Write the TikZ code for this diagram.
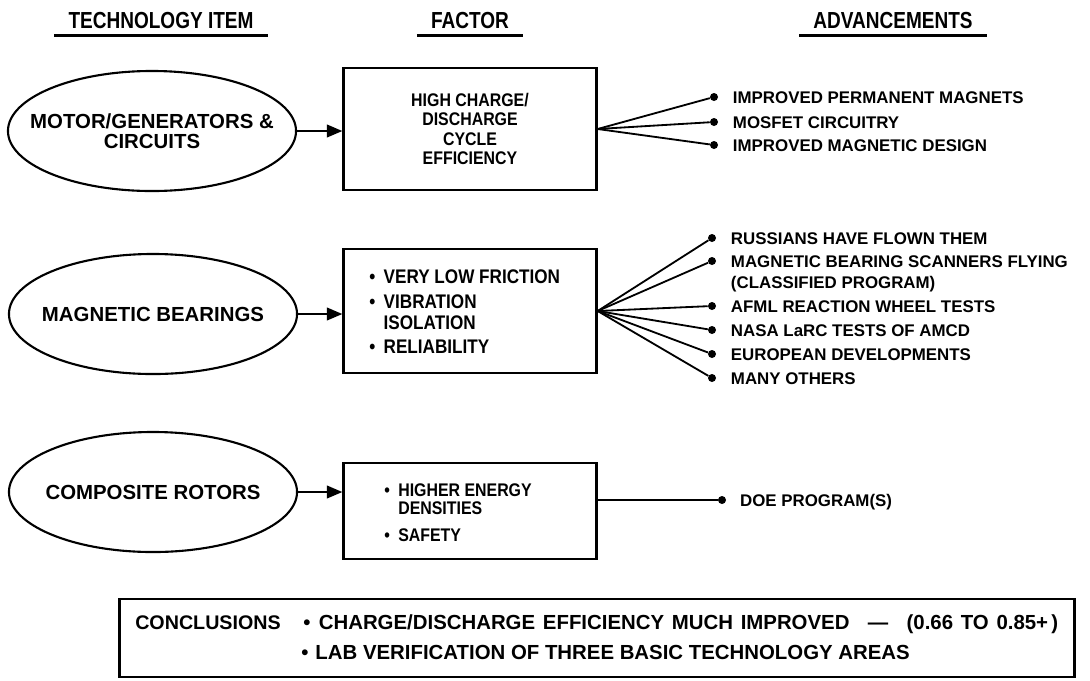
\documentclass[tikz,border=0pt]{standalone}
\usepackage{fontspec}
\setmainfont{Liberation Sans}
\newfontfamily\headfont{Liberation Sans}[FakeStretch=0.82]
\newfontfamily\condfont{Liberation Sans}[FakeStretch=0.87]
\usetikzlibrary{arrows.meta}
\usetikzlibrary{positioning}
\usetikzlibrary{shapes.geometric}
\newcommand{\fbul}{\textbullet\hspace{6pt}}
\newcommand{\fsp}{\phantom{\textbullet}\hspace{6pt}}

\begin{document}
\begin{tikzpicture}[x=0.025cm, y=-0.025cm,
		every node/.style={font=\bfseries},
		head/.style={font=\headfont\bfseries\fontsize{16.5}{18}\selectfont, inner xsep=3.5mm, inner ysep=1.7mm, text height=11.8pt, text depth=0pt},
		uline/.style={line width=2pt},
		techitem/.style={ellipse, draw, line width=1.5pt, minimum width=7.2cm, minimum height=3cm, inner xsep=-16pt, inner ysep=0pt, align=center, font=\bfseries\fontsize{14.5}{14.5}\selectfont},
		factor/.style={rectangle, draw, line width=1.6pt, minimum width=6.325cm, inner sep=0pt, align=center, font=\condfont\bfseries\fontsize{13}{13.8}\selectfont},
		facitem/.style={anchor=west, inner sep=0pt, align=left, font=\condfont\bfseries\fontsize{14}{15}\selectfont},
		arr/.style={line width=1.4pt, -{Triangle[length=11pt,width=9pt]}},
		fan/.style={line width=1.3pt},
		bul/.style={circle, fill, inner sep=0pt, minimum size=2mm},
		advtext/.style={inner sep=0pt, text height=8.6pt, text depth=0pt, font=\bfseries\fontsize{12}{14}\selectfont},
		concl/.style={anchor=west, inner sep=0pt, text height=10pt, text depth=0pt, font=\bfseries\fontsize{14.5}{16}\selectfont}]
	
	\useasboundingbox (0,0) rectangle (1090,680);
	
	% column heads
	\node[head] (hditem) at (161,20) {TECHNOLOGY ITEM};
	\node[head] (hdfac) at (470,20) {FACTOR};
	\node[head] (hdadv) at (893,20) {ADVANCEMENTS};
	\foreach \h in {hditem,hdfac,hdadv}
		\draw[uline] (\h.south west) -- (\h.south east);
	
	% technology items
	\node[techitem] (ell1) at (152,131) {MOTOR/GENERATORS \&\\CIRCUITS};
	\node[techitem] (ell2) at (153,314) {MAGNETIC BEARINGS};
	\node[techitem] (ell3) at (153,492) {COMPOSITE ROTORS};
	
	% factors
	\node[factor, minimum height=3.05cm] (fac1) at (470,129) {HIGH CHARGE/\\DISCHARGE\\CYCLE\\EFFICIENCY};
	\node[factor, minimum height=3.1cm] (fac2) at (470,311) {};
	\node[factor, minimum height=2.4cm] (fac3) at (470,511) {};
	
	\node[facitem] (f21) at (369,277) {\fbul VERY LOW FRICTION};
	\node[facitem] (f22) at (369,312) {\fbul VIBRATION\\\fsp ISOLATION};
	\node[facitem] (f23) at (369,347) {\fbul RELIABILITY};
	
	\node[facitem, font=\condfont\bfseries\fontsize{13}{12.8}\selectfont] (f31) at (384,499) {\fbul HIGHER ENERGY\\\fsp DENSITIES};
	\node[facitem, font=\condfont\bfseries\fontsize{13}{12.8}\selectfont] (f32) at (384,535) {\fbul SAFETY};
	
	\draw[arr] (ell1.east) -- (fac1.west |- ell1.east);
	\draw[arr] (ell2.east) -- (fac2.west |- ell2.east);
	\draw[arr] (ell3.east) -- (fac3.west |- ell3.east);
	
	% {fac1 -> advancements}
	\foreach \n/\y in {11/97, 12/122, 13/145}
		\node[bul] (b\n) at (714,\y) {};
	\node[advtext, right=3.6mm of b11] (a11) {IMPROVED PERMANENT MAGNETS};
	\node[advtext, right=3.6mm of b12] (a12) {MOSFET CIRCUITRY};
	\node[advtext, right=3.6mm of b13] (a13) {IMPROVED MAGNETIC DESIGN};
	\foreach \n in {11,12,13}
		\draw[fan] (fac1.east) -- (b\n);
	
	% {fac2 -> advancements}
	\foreach \n/\y in {21/238, 22/261, 23/306, 24/330, 25/354, 26/378}
		\node[bul] (b\n) at (712,\y) {};
	\node[advtext, right=3.6mm of b21] (a21) {RUSSIANS HAVE FLOWN THEM};
	\node[advtext, right=3.6mm of b22] (a22) {MAGNETIC BEARING SCANNERS FLYING};
	\node[advtext, anchor=north west] (a22c) at ([yshift=-2.25mm]a22.south west) {(CLASSIFIED PROGRAM)};
	\node[advtext, right=3.6mm of b23] (a23) {AFML REACTION WHEEL TESTS};
	\node[advtext, right=3.6mm of b24] (a24) {NASA LaRC TESTS OF AMCD};
	\node[advtext, right=3.6mm of b25] (a25) {EUROPEAN DEVELOPMENTS};
	\node[advtext, right=3.6mm of b26] (a26) {MANY OTHERS};
	\foreach \n in {21,22,23,24,25,26}
		\draw[fan] (fac2.east) -- (b\n);
	
	% {fac3 -> advancements}
	\node[bul] (b31) at (722,500) {};
	\node[advtext, right=3.4mm of b31] (a31) {DOE PROGRAM(S)};
	\draw[line width=0.9pt] (fac3.east |- b31) -- (b31);
	
	% conclusions
	\node[draw, line width=2pt, minimum width=23.85cm, minimum height=1.95cm, inner sep=0pt] (conc) at (597,638) {};
	\node[concl, font=\bfseries\fontsize{14}{16}\selectfont] (cl) at (135,622) {CONCLUSIONS};
	\node[concl] (c1) at (303,622) {\spaceskip=5.5pt\textbullet\hspace{6pt}CHARGE/DISCHARGE EFFICIENCY MUCH IMPROVED\hspace{0.9em}—\hspace{0.9em}(0.66 TO 0.85+\,)};
	\node[concl] (c2) at (301,652) {\textbullet\hspace{5pt}LAB VERIFICATION OF THREE BASIC TECHNOLOGY AREAS};
	
\end{tikzpicture}
\end{document}
